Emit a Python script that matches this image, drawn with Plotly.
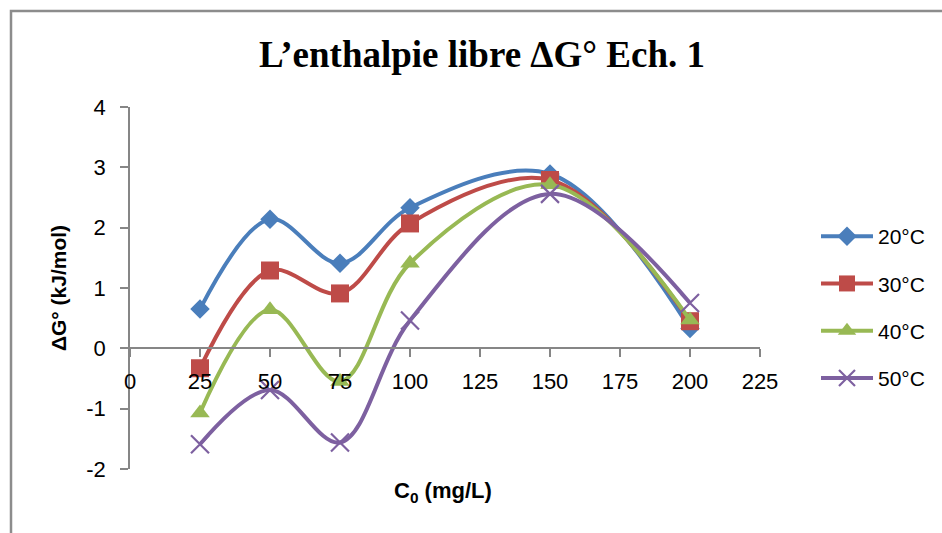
import plotly.graph_objects as go

c0 = [25, 50, 75, 100, 150, 200]
dg_20 = [0.65, 2.14, 1.41, 2.33, 2.89, 0.33]
dg_30 = [-0.33, 1.29, 0.91, 2.07, 2.79, 0.45]
dg_40 = [-1.07, 0.64, -0.55, 1.41, 2.71, 0.47]
dg_50 = [-1.59, -0.69, -1.56, 0.46, 2.56, 0.75]
names = ["20°C", "30°C", "40°C", "50°C"]
x_ticks = [0, 25, 50, 75, 100, 125, 150, 175, 200, 225]
y_ticks = [-2, -1, 0, 1, 2, 3, 4]

colors = ["#4A7EBB", "#BE4B48", "#98B954", "#7D60A0"]
symbols = ["diamond", "square", "triangle-up", "x-thin"]
sizes = [15, 18, 17, 18]
series = [dg_20, dg_30, dg_40, dg_50]

SANS = "Liberation Sans, Arial, sans-serif"

fig = go.Figure()
for i, (nm, ys) in enumerate(zip(names, series)):
    marker = dict(symbol=symbols[i], size=sizes[i], color=colors[i])
    if symbols[i] == "x-thin":
        marker["line"] = dict(color=colors[i], width=2.2)
    else:
        marker["line"] = dict(width=0)
    fig.add_trace(go.Scatter(
        x=c0, y=ys, name=nm, mode="lines+markers",
        line=dict(color=colors[i], width=4, shape="spline", smoothing=1.0),
        marker=marker, legendgroup=nm,
    ))

L, R, T, B = 130, 182, 107, 64
W, H = 942, 533
pw = W - L - R
ph = H - T - B

def px2x(px):
    return (px - L) / pw

def py2y(py):
    return (H - B - py) / ph

fig.update_layout(
    width=W, height=H,
    margin=dict(l=L, r=R, t=T, b=B, pad=0),
    paper_bgcolor="white", plot_bgcolor="white",
    title=dict(text="<b>L’enthalpie libre ΔG° Ech. 1</b>",
               font=dict(family="Liberation Serif, Times New Roman, serif", size=37, color="black"),
               x=px2x(482), xref="paper", xanchor="center",
               y=1 - 54 / H, yref="container", yanchor="middle"),
    showlegend=True,
    legend=dict(x=px2x(816), y=py2y(216), xanchor="left", yanchor="top",
                font=dict(family=SANS, size=21, color="black"),
                itemwidth=52, tracegroupgap=17, traceorder="grouped",
                bgcolor="rgba(0,0,0,0)"),
    xaxis=dict(range=[0, 225], tickvals=x_ticks, ticktext=[str(v) for v in x_ticks],
               anchor="free", position=1/3, showgrid=False, zeroline=False,
               showline=True, linecolor="#868686", linewidth=1.5,
               ticks="outside", ticklen=8, tickcolor="#868686", tickwidth=1.5,
               ticklabelstandoff=6,
               tickfont=dict(family=SANS, size=22, color="black")),
    yaxis=dict(range=[-2, 4], tickvals=y_ticks, ticktext=[str(v) for v in y_ticks],
               showgrid=False, zeroline=False,
               showline=True, linecolor="#868686", linewidth=1.5,
               ticks="outside", ticklen=8, tickcolor="#868686", tickwidth=1.5,
               ticklabelstandoff=10,
               tickfont=dict(family=SANS, size=22, color="black"),
               title=dict(text="<b>ΔG° (kJ/mol)</b>", standoff=14,
                          font=dict(family=SANS, size=21, color="black"))),
    annotations=[dict(text="<b>C<sub>0</sub> (mg/L)</b>", xref="paper", yref="paper",
                      x=px2x(443), y=py2y(492), xanchor="center", yanchor="middle",
                      showarrow=False, font=dict(family=SANS, size=22, color="black"))],
    shapes=[dict(type="rect", xref="paper", yref="paper",
                 x0=px2x(11), x1=px2x(960), y0=py2y(560), y1=py2y(11),
                 line=dict(color="#8C8C8C", width=2.5), layer="below")],
)

fig.write_html("out.html")
